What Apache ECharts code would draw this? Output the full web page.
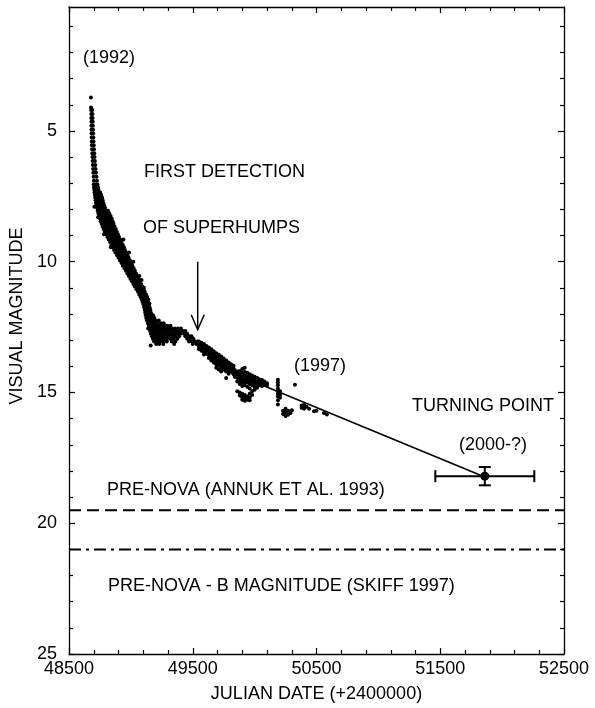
<!DOCTYPE html>
<html>
<head>
<meta charset="utf-8">
<script src="https://cdn.jsdelivr.net/npm/echarts@6/dist/echarts.min.js"></script>
<style>
  html, body { margin: 0; padding: 0; background: #fff; }
  #chart-container { width: 595px; height: 708px; }
</style>
</head>
<body>
<div id="chart-container"></div>
<script>
// early decline, read row by row: [magnitude, JD, JD, ...]
var earlyDecline = [
  [3.72, 48677],
  [4.10, 48678], [4.20, 48679, 48688], [4.35, 48680, 48690], [4.50, 48680, 48691],
  [4.65, 48681, 48692], [4.80, 48681, 48693], [4.95, 48682, 48694], [5.10, 48682, 48695],
  [5.25, 48683, 48697], [5.40, 48684, 48698], [5.55, 48685, 48700], [5.70, 48686, 48702],
  [5.85, 48688, 48704], [6.00, 48690, 48706], [6.15, 48691, 48709], [6.30, 48693, 48712],
  [6.45, 48695, 48715], [6.60, 48697, 48718], [6.75, 48699, 48722], [6.90, 48701, 48726],
  [7.05, 48700, 48715, 48730], [7.15, 48702, 48718, 48734], [7.25, 48704, 48720, 48738],
  [7.35, 48706, 48724, 48742, 48752], [7.45, 48709, 48728, 48746, 48760],
  [7.55, 48712, 48732, 48750, 48768], [7.65, 48715, 48735, 48755, 48772],
  [7.75, 48718, 48740, 48760, 48778], [7.85, 48722, 48744, 48765, 48785],
  [7.95, 48728, 48750, 48772, 48792], [8.05, 48732, 48756, 48778, 48800, 48815],
  [8.15, 48738, 48762, 48785, 48808, 48825], [8.25, 48744, 48768, 48792, 48815, 48836],
  [8.35, 48750, 48775, 48800, 48822, 48845], [8.45, 48756, 48782, 48806, 48830, 48852],
  [8.55, 48764, 48790, 48814, 48838, 48860], [8.65, 48772, 48798, 48822, 48846, 48868],
  [8.75, 48780, 48805, 48830, 48855, 48878], [8.85, 48790, 48814, 48838, 48862, 48886],
  [8.95, 48800, 48824, 48848, 48872, 48895], [9.05, 48810, 48834, 48858, 48882, 48904],
  [9.15, 48822, 48845, 48868, 48892, 48914], [9.25, 48832, 48855, 48878, 48902, 48924],
  [9.35, 48842, 48866, 48890, 48912, 48934], [9.45, 48852, 48876, 48900, 48922, 48944],
  [9.55, 48864, 48888, 48910, 48932, 48952], [9.65, 48875, 48898, 48920, 48942, 48962],
  [9.75, 48888, 48910, 48932, 48954, 48972], [9.85, 48900, 48922, 48944, 48964, 48982],
  [9.95, 48912, 48934, 48955, 48975, 48992], [10.05, 48924, 48946, 48966, 48986, 49002],
  [10.15, 48936, 48958, 48978, 48996, 49012], [10.25, 48948, 48970, 48990, 49008, 49022],
  [10.35, 48960, 48982, 49000, 49018, 49032], [10.45, 48972, 48994, 49012, 49028, 49042],
  [10.55, 48984, 49005, 49024, 49040, 49052], [10.65, 48996, 49016, 49035, 49050, 49062],
  [10.75, 49008, 49028, 49046, 49060, 49072], [10.85, 49020, 49040, 49056, 49070, 49082],
  [10.95, 49032, 49052, 49066, 49080, 49092], [11.05, 49045, 49062, 49077, 49090, 49102],
  [11.15, 49058, 49072, 49088, 49100, 49112], [11.25, 49068, 49082, 49098, 49110, 49122],
  [11.35, 49078, 49092, 49108, 49120, 49132], [11.45, 49088, 49102, 49116, 49130, 49142],
  [11.55, 49096, 49110, 49124, 49138], [11.65, 49102, 49116, 49130, 49146],
  [11.75, 49108, 49122, 49136, 49152], [11.85, 49112, 49126, 49142, 49158],
  [11.95, 49116, 49130, 49146, 49162], [12.05, 49120, 49134, 49150, 49166, 49180],
  [12.15, 49124, 49140, 49156, 49172, 49190],
  [12.25, 49130, 49146, 49162, 49180, 49200, 49225],
  [12.35, 49138, 49155, 49172, 49190, 49210, 49240, 49265],
  [12.45, 49145, 49162, 49180, 49200, 49222, 49245, 49270, 49295, 49320],
  [12.55, 49150, 49168, 49188, 49210, 49232, 49255, 49280, 49305, 49330, 49355, 49380, 49405],
  [12.65, 49156, 49175, 49196, 49218, 49240, 49265, 49290, 49315, 49340, 49365, 49390, 49420, 49440],
  [12.75, 49162, 49182, 49204, 49226, 49250, 49275, 49300, 49325, 49350, 49375, 49400, 49430, 49455],
  [12.85, 49170, 49190, 49212, 49236, 49260, 49285, 49310, 49335, 49360, 49390, 49440, 49470, 49490],
  [12.95, 49178, 49200, 49222, 49246, 49270, 49295, 49320, 49345, 49375, 49455, 49482, 49505],
  [13.05, 49188, 49212, 49235, 49260, 49290, 49330, 49360, 49470, 49495, 49520, 49540],
  [13.15, 49205, 49230, 49262, 49350, 49500, 49530]
];

// stray observations beside the main band: [JD, mag]
var strayPoints = [
  [48735, 8.30], [48705, 7.90], [48782, 8.95], [48838, 9.45], [48940, 9.15],
  [48985, 9.65], [49020, 10.00], [49068, 10.55], [49086, 10.70], [49105, 11.00],
  [49150, 11.60], [49170, 12.20], [49140, 12.55], [49160, 13.20]
];

// later decline, read column by column: [JD, mag, mag, ...]
var lateDecline = [
  [49550, 13.05, 13.15, 13.25, 13.35], [49570, 13.10, 13.20, 13.30, 13.40],
  [49590, 13.15, 13.25, 13.35, 13.45, 13.55], [49610, 13.22, 13.32, 13.42, 13.52],
  [49630, 13.28, 13.38, 13.48, 13.58, 13.68], [49650, 13.35, 13.45, 13.55, 13.65, 13.78],
  [49670, 13.42, 13.52, 13.62, 13.72, 13.85], [49690, 13.50, 13.60, 13.70, 13.80, 13.92, 14.05],
  [49710, 13.56, 13.66, 13.76, 13.86, 13.98, 14.12], [49730, 13.62, 13.72, 13.82, 13.92, 14.05, 14.20],
  [49750, 13.70, 13.80, 13.90, 14.00, 14.12], [49770, 13.78, 13.88, 13.98, 14.08, 14.20, 14.45],
  [49790, 13.85, 13.95, 14.05, 14.15, 14.28], [49810, 13.92, 14.02, 14.12, 14.22],
  [49830, 13.98, 14.08, 14.18, 14.30], [49840, 14.15, 14.28, 14.40],
  [49860, 14.20, 14.32, 14.45, 14.58, 14.95],
  [49880, 14.18, 14.30, 14.42, 14.55, 14.68, 15.00, 15.12],
  [49900, 14.10, 14.25, 14.38, 14.50, 14.62, 14.75, 15.05, 15.18, 15.28],
  [49920, 14.05, 14.22, 14.35, 14.48, 14.60, 14.72, 15.10, 15.22, 15.32],
  [49940, 14.25, 14.38, 14.50, 14.62, 14.78, 15.15, 15.28],
  [49960, 14.30, 14.42, 14.55, 14.68, 14.85, 15.05, 15.20, 15.30],
  [49980, 14.35, 14.48, 14.60, 14.72, 14.95, 15.10],
  [50000, 14.40, 14.52, 14.64, 14.78, 14.90], [50020, 14.45, 14.58, 14.70, 14.82],
  [50040, 14.50, 14.60, 14.72], [50060, 14.52, 14.64, 14.75], [50080, 14.58, 14.68],
  [50100, 14.65, 14.72],
  [50188, 14.51, 14.62, 14.72, 14.85, 14.95, 15.05, 15.15, 15.30, 15.46],
  [50205, 14.95, 15.10, 15.20],
  [50230, 15.70, 15.82], [50250, 15.62, 15.75, 15.90], [50270, 15.70, 15.85],
  [50290, 15.78], [50301, 15.68], [50326, 14.70],
  [50380, 15.50, 15.58], [50400, 15.48, 15.62], [50420, 15.55], [50440, 15.62],
  [50480, 15.72], [50500, 15.70], [50560, 15.78], [50584, 15.84]
];

// linear trend towards the turning point
var trendJD = [50030, 51860];
var trendMag = [14.66, 18.23];

// turning point with its error bars: [JD, mag, dJD, dMag]
var turningPoint = [51860, 18.2, 400, 0.35];

var preNovaV = 19.5;   // Annuk et al. 1993
var preNovaB = 21.0;   // Skiff 1997
var xRange = [48500, 52500];

// arrow marking first detection of superhumps: [JD, mag from, mag to]
var arrowMark = [49540, 10.0, 12.6];

var yMajor = [5, 10, 15, 20, 25];
var yMinor = [1, 2, 3, 4, 6, 7, 8, 9, 11, 12, 13, 14, 16, 17, 18, 19, 21, 22, 23, 24];

var points = strayPoints.slice();
earlyDecline.forEach(function (row) {
  for (var i = 1; i < row.length; i++) points.push([row[i], row[0]]);
});
lateDecline.forEach(function (row) {
  for (var i = 1; i < row.length; i++) points.push([row[0], row[i]]);
});

var dom = document.getElementById("chart-container");
var myChart = echarts.init(dom, null, { renderer: "canvas" });

var FONT = "'Liberation Sans', Arial, sans-serif";
var black = "#000";

function xAxisDef(pos, showLabel) {
  return {
    type: "value",
    position: pos,
    min: xRange[0],
    max: xRange[1],
    interval: 1000,
    axisLine: { show: true, onZero: false, lineStyle: { color: black, width: 1.3 } },
    axisTick: { show: true, inside: true, length: 6, lineStyle: { color: black, width: 1.2 } },
    minorTick: { show: true, splitNumber: 5, length: 4, lineStyle: { color: black, width: 1.2 } },
    axisLabel: {
      show: showLabel, margin: 6, color: black, fontSize: 18, fontFamily: FONT,
      showMinLabel: true, showMaxLabel: true,
      formatter: function (v) { return String(v); }
    },
    splitLine: { show: false }
  };
}

function yAxisDef(pos, ticks, len, showLabel, showLine) {
  return {
    type: "value",
    position: pos,
    inverse: true,
    min: 0.26,
    max: 25,
    axisLine: { show: showLine, onZero: false, lineStyle: { color: black, width: 1.3 } },
    axisTick: { show: true, inside: true, length: len, customValues: ticks, lineStyle: { color: black, width: 1.2 } },
    axisLabel: { show: showLabel, customValues: yMajor, margin: 12, color: black, fontSize: 18, fontFamily: FONT },
    splitLine: { show: false }
  };
}

function renderErrorBar(params, api) {
  var x = api.value(0), y = api.value(1), dx = api.value(2), dy = api.value(3);
  var l = api.coord([x - dx, y]);
  var r = api.coord([x + dx, y]);
  var t = api.coord([x, y - dy]);
  var b = api.coord([x, y + dy]);
  var cap = 6;
  var st = { stroke: black, lineWidth: 2 };
  return {
    type: "group",
    children: [
      { type: "line", shape: { x1: l[0], y1: l[1], x2: r[0], y2: r[1] }, style: st },
      { type: "line", shape: { x1: l[0], y1: l[1] - cap, x2: l[0], y2: l[1] + cap }, style: st },
      { type: "line", shape: { x1: r[0], y1: r[1] - cap, x2: r[0], y2: r[1] + cap }, style: st },
      { type: "line", shape: { x1: t[0], y1: t[1], x2: b[0], y2: b[1] }, style: st },
      { type: "line", shape: { x1: t[0] - cap, y1: t[1], x2: t[0] + cap, y2: t[1] }, style: st },
      { type: "line", shape: { x1: b[0] - cap, y1: b[1], x2: b[0] + cap, y2: b[1] }, style: st }
    ]
  };
}

function renderArrow(params, api) {
  var top = api.coord([api.value(0), api.value(1)]);
  var tip = api.coord([api.value(0), api.value(2)]);
  var st = { stroke: black, lineWidth: 1.5, fill: null };
  return {
    type: "group",
    children: [
      { type: "line", shape: { x1: top[0], y1: top[1], x2: tip[0], y2: tip[1] }, style: st },
      { type: "polyline", shape: { points: [[tip[0] - 6.5, tip[1] - 15], [tip[0], tip[1]], [tip[0] + 6.5, tip[1] - 15]] }, style: st }
    ]
  };
}

function label(text, x, y, align) {
  return {
    type: "text",
    x: x,
    y: y,
    style: { text: text, fill: black, font: "18px " + FONT, align: align || "left", verticalAlign: "middle" }
  };
}

var option = {
  animation: false,
  backgroundColor: "#fff",
  grid: { left: 69, right: 31, top: 7, bottom: 50 },
  xAxis: [
    Object.assign(xAxisDef("bottom", true), {
      name: "JULIAN DATE (+2400000)",
      nameLocation: "middle",
      nameGap: 31,
      nameTextStyle: { color: black, fontSize: 18, fontFamily: FONT }
    }),
    xAxisDef("top", false)
  ],
  yAxis: [
    yAxisDef("left", yMajor, 6, true, true),
    yAxisDef("right", yMajor, 6, false, true),
    yAxisDef("left", yMinor, 4, false, false),
    yAxisDef("right", yMinor, 4, false, false)
  ],
  graphic: [
    {
      type: "text",
      x: 17,
      y: 316,
      rotation: Math.PI / 2,
      style: { text: "VISUAL MAGNITUDE", fill: black, font: "18px " + FONT, align: "center", verticalAlign: "middle" }
    },
    label("(1992)", 109, 58, "center"),
    label("FIRST DETECTION", 144, 172),
    label("OF SUPERHUMPS", 143, 228),
    label("(1997)", 320, 366, "center"),
    label("TURNING POINT", 412, 406),
    label("(2000-?)", 493, 445, "center"),
    label("PRE-NOVA (ANNUK ET AL. 1993)", 107, 490),
    label("PRE-NOVA - B MAGNITUDE (SKIFF 1997)", 108, 586)
  ],
  series: [
    {
      type: "scatter",
      data: points,
      symbol: "circle",
      symbolSize: 4,
      itemStyle: { color: black, opacity: 1 },
      silent: true
    },
    {
      type: "line",
      data: [[trendJD[0], trendMag[0]], [trendJD[1], trendMag[1]]],
      symbol: "none",
      lineStyle: { color: black, width: 1.6 },
      silent: true
    },
    {
      type: "line",
      data: [[xRange[0], preNovaV], [xRange[1], preNovaV]],
      symbol: "none",
      lineStyle: { color: black, width: 2, type: [12, 6] },
      silent: true
    },
    {
      type: "line",
      data: [[xRange[0], preNovaB], [xRange[1], preNovaB]],
      symbol: "none",
      lineStyle: { color: black, width: 2, type: [12, 5, 3, 5] },
      silent: true
    },
    {
      type: "custom",
      renderItem: renderErrorBar,
      data: [turningPoint],
      encode: { x: 0, y: 1 },
      silent: true
    },
    {
      type: "scatter",
      data: [[turningPoint[0], turningPoint[1]]],
      symbol: "circle",
      symbolSize: 9,
      itemStyle: { color: black, opacity: 1 },
      silent: true
    },
    {
      type: "custom",
      renderItem: renderArrow,
      data: [arrowMark],
      encode: { x: 0, y: 1 },
      silent: true
    }
  ]
};

myChart.setOption(option);
window.addEventListener("resize", myChart.resize);
</script>
</body>
</html>
